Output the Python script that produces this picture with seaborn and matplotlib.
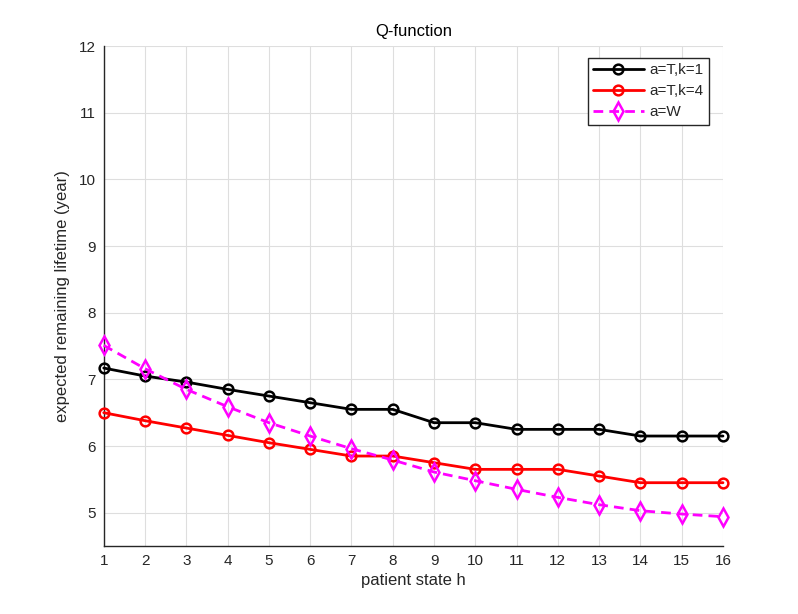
import numpy as np
import pandas as pd
import matplotlib
matplotlib.use("Agg")
import matplotlib.pyplot as plt
import seaborn as sns

# patient states
states = list(range(1, 17))

# expected remaining lifetime per state
q_treat_k1 = [7.17, 7.05, 6.96, 6.85, 6.75, 6.65, 6.55, 6.55,
              6.35, 6.35, 6.25, 6.25, 6.25, 6.15, 6.15, 6.15]
q_treat_k4 = [6.50, 6.38, 6.27, 6.16, 6.05, 5.95, 5.85, 5.85,
              5.75, 5.65, 5.65, 5.65, 5.55, 5.45, 5.45, 5.45]
q_wait = [7.51, 7.16, 6.85, 6.59, 6.35, 6.15, 5.96, 5.79,
          5.61, 5.48, 5.35, 5.23, 5.12, 5.03, 4.98, 4.94]

labels = ["a=T,k=1", "a=T,k=4", "a=W"]

sns.set_style("white")
plt.rcParams["font.family"] = ["Liberation Sans", "DejaVu Sans"]

axis_col = "#262626"
fig = plt.figure(figsize=(7.98, 6.14), dpi=100)
ax = fig.add_axes([0.13, 0.1107, 0.776, 0.8143])

sns.lineplot(x=states, y=q_treat_k1, ax=ax, color="black", lw=2,
             marker="o", markersize=7, markerfacecolor="none",
             markeredgecolor="black", markeredgewidth=1.8,
             label=labels[0], clip_on=False, zorder=3)
sns.lineplot(x=states, y=q_treat_k4, ax=ax, color="red", lw=2,
             marker="o", markersize=7, markerfacecolor="none",
             markeredgecolor="red", markeredgewidth=1.8,
             label=labels[1], clip_on=False, zorder=3)
sns.lineplot(x=states, y=q_wait, ax=ax, color="magenta", lw=2,
             linestyle=(0, (3.5, 2.2)), marker="d", markersize=9,
             markerfacecolor="none", markeredgecolor="magenta",
             markeredgewidth=1.8, label=labels[2], clip_on=False, zorder=3)

ax.set_xlim(1, 16)
ax.set_ylim(4.5, 12)
ax.set_xticks(states)
ax.set_yticks(range(5, 13))
ax.grid(True, color="#dedede", lw=0.8)
ax.set_axisbelow(True)
for s in ["top", "right"]:
    ax.spines[s].set_visible(False)
for s in ["left", "bottom"]:
    ax.spines[s].set_color(axis_col)
    ax.spines[s].set_linewidth(1.0)
ax.tick_params(direction="in", length=5, width=1, colors=axis_col,
               labelsize=11, pad=6)

ax.set_xlabel("patient state h", fontsize=12, color=axis_col, labelpad=3)
ax.set_ylabel("expected remaining lifetime (year)", fontsize=12,
              color=axis_col, labelpad=6)
ax.set_title("Q-function", fontsize=12, color="black", pad=7)

leg = ax.legend(loc="upper right", bbox_to_anchor=(0.985, 0.985),
                fontsize=11, frameon=True, fancybox=False, framealpha=1,
                borderpad=0.35, handlelength=3.3, labelspacing=0.45,
                handletextpad=0.4, borderaxespad=0.3)
leg.get_frame().set_edgecolor(axis_col)
leg.get_frame().set_linewidth(1.0)

fig.savefig("out.png", dpi=100, facecolor="white")
